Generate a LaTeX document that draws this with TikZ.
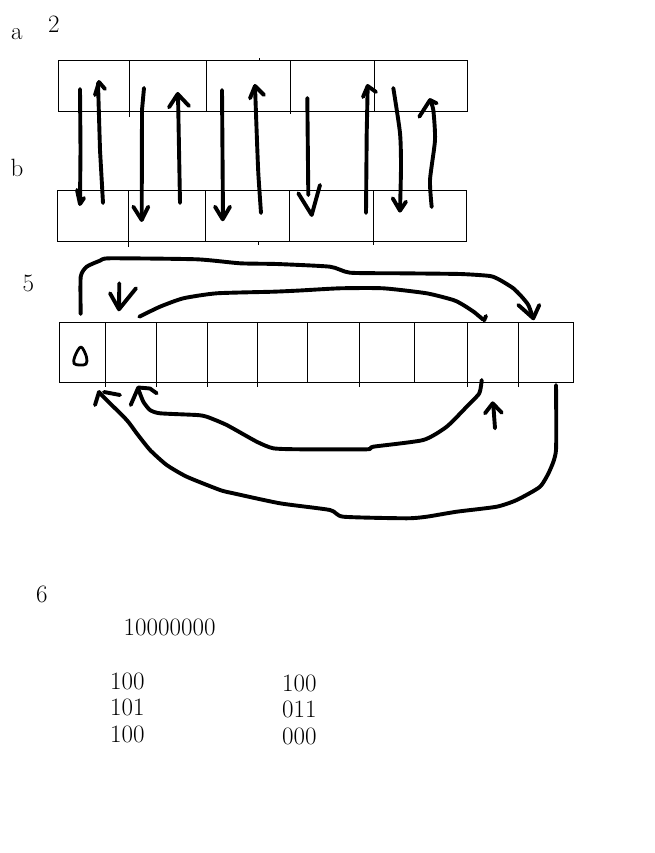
\documentclass[tikz,border=0pt]{standalone}
\usepackage{fontspec}
\begin{document}
\begin{tikzpicture}[x=1pt,y=-1pt,
  pen/.style={line width=3.9pt, line cap=round, line join=round},
  gridline/.style={line width=1pt},
  lbl/.style={anchor=base west, inner sep=0pt, font=\fontsize{25}{25}\selectfont\addfontfeatures{FakeStretch=1.1}}]
\useasboundingbox (0,0) rectangle (654,853);

% labels
\node[lbl] (ta) at (11,40) {a};
\node[lbl] (t2) at (48,32.3) {2};
\node[lbl] (tb) at (10.5,176) {b};
\node[lbl] (t5) at (22.5,291) {5};
\node[lbl] (t6) at (36,602) {6};
\node[lbl] (tbig) at (123.5,635) {10000000};
\node[lbl] (l1) at (110,689) {100};
\node[lbl] (l2) at (110,715.5) {101};
\node[lbl] (l3) at (110,742) {100};
\node[lbl] (r1) at (282,691) {100};
\node[lbl] (r2) at (282,717.5) {011};
\node[lbl] (r3) at (282,744) {000};

% section 2 boxes
\draw[gridline] (58.3,61) rectangle (467.3,112);
\foreach \x in {129.3,206.3,290.3,374.7} \draw[gridline] (\x,61) -- (\x,112);
\draw[gridline] (129.3,112) -- (129.3,117);
\draw[gridline] (290.3,112) -- (290.3,114);
\draw[gridline] (259.3,58) -- (259.3,61);
\draw[gridline] (57.7,190) rectangle (466.7,241);
\foreach \x in {128.3,205.3,289.3,373.3} \draw[gridline] (\x,190) -- (\x,241);
\draw[gridline] (128.3,241) -- (128.3,247);
\draw[gridline] (373.3,241) -- (373.3,245);
\draw[gridline] (258.7,241) -- (258.7,245);

% section 2 arrows
\draw[pen] (80,89) -- (80.5,150) -- (80,203);
\draw[pen] (77,190) -- (80,204) -- (84,198);
\draw[pen] (103,203) -- (100,150) -- (98,83);
\draw[pen] (95,95) -- (99,82) -- (105,89);
\draw[pen] (144,88) -- (142,110) -- (141.7,219);
\draw[pen] (133.3,206.7) -- (141.7,220) -- (148.3,206.7);
\draw[pen] (180,203) -- (178,94);
\draw[pen] (169,107.3) -- (177.7,94) -- (189,106);
\draw[pen] (222,90) -- (223,218);
\draw[pen] (215,206.7) -- (222.7,219.3) -- (230,206.7);
\draw[pen] plot[smooth, tension=0.4] coordinates {(261,213) (258.3,173) (256.7,133) (255,86)};
\draw[pen] (250,98.3) -- (255,86) -- (264,95);
\draw[pen] (307.3,98) -- (308.3,195);
\draw[pen] (298.3,193.3) -- (311.7,215) -- (320,185);
\draw[pen] (366,213) -- (366.7,133) -- (367.7,86);
\draw[pen] (363,97) -- (367.7,86) -- (376,92);
\draw[pen] plot[smooth, tension=0.4] coordinates {(393.3,88) (400,133) (401,167) (400,210)};
\draw[pen] (392.7,198.3) -- (400,210.7) -- (406,201.7);
\draw[pen] plot[smooth, tension=0.4] coordinates {(431.7,207) (430,180) (435,140) (433.3,110) (430,100)};
\draw[pen] (419.3,116.7) -- (430,100) -- (436.7,103.3);

% section 5 strip
\draw[gridline] (59.3,322.3) rectangle (573.3,382.3);
\foreach \x in {105.3,156.3,207.3,257.3,307.7,359.3,414.3,467.3,518.3} \draw[gridline] (\x,322.3) -- (\x,382.3);
\foreach \x in {105.3,156.3,207.3,257.3,359.3,467.3,518.3} \draw[gridline] (\x,382.3) -- (\x,386.5);

% droplet in first cell
\draw[line width=2.8pt, line join=round] plot[smooth cycle, tension=0.6] coordinates {(81,347) (75,356) (74,363.5) (80,365) (86,364) (86.5,357)};

% curve A
\draw[pen] plot[smooth, tension=0.35] coordinates {(80.7,314) (80.7,276.7) (86.7,266.7) (100,260.7) (110,258.3) (196.7,259.3) (240,263.3) (276.7,264) (330,266.7) (350,272.7) (400,273.3) (460,274) (490,276) (500,280) (513.3,288.3) (521.7,296.7) (528.3,305) (533.3,318.3)};
\draw[pen] (518.3,305) -- (533.3,318.3) -- (539.3,305);

% curve B
\draw[pen] plot[smooth, tension=0.35] coordinates {(139.3,316.7) (160,306.7) (183.3,298.3) (216.7,293.3) (273.3,291.7) (300,290.5) (340,288.3) (383.3,288.3) (426.7,293.3) (453.3,300) (463.3,305) (474,312) (483,319.5)};
\draw[pen] (486,316) -- (484,320.5);

% small down arrow
\draw[pen] (119.3,283.3) -- (119,309.3);
\draw[pen] (110,293.3) -- (119,309.3) -- (136,288.3);

% curve C
\draw[pen] plot[smooth, tension=0.35] coordinates {(481.7,380) (479.3,393.3) (466.7,406.7) (446.7,426.7) (423.3,440) (373.3,446.7) (366.7,449.3) (300,449.3) (273.3,448.3) (256.7,441.7) (226.7,425) (206.7,416.7) (196.7,415) (160,413.3) (150,410) (143.3,401.7) (138.3,389)};
\draw[pen] (130.7,405) -- (138.3,387.5) -- (150,388.5) -- (156.7,393.3);

% curve D
\draw[pen] plot[smooth, tension=0.35] coordinates {(556,385) (556,450) (550,470) (540,486.7) (516.7,500) (496.7,506.7) (456.7,511.7) (426.7,516.7) (406.7,518.3) (343.3,516.7) (330,510) (280,503.3) (233.3,493.3) (220,490) (186.7,476.7) (166.7,465) (150,450) (136.7,433.3) (126.7,420) (103.3,396.7) (99,392)};
\draw[pen] (95,405) -- (99,392);
\draw[pen] (104,392) -- (120,395);

% small up arrow
\draw[pen] (495,428.3) -- (493.3,405);
\draw[pen] (485,413.3) -- (492.7,403.3) -- (501.7,412.7);
\end{tikzpicture}
\end{document}
